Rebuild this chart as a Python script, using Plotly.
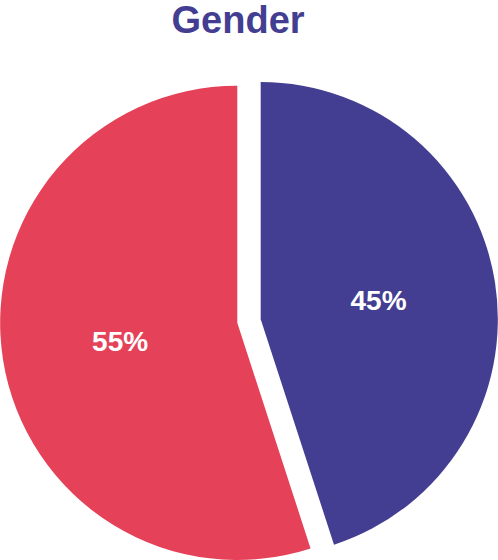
import plotly.graph_objects as go

labels = ["Male", "Female"]
values = [45, 55]
colors = ["#433E91", "#E5425A"]
title_text = "Gender"

fig = go.Figure(go.Pie(
    labels=labels,
    values=values,
    marker=dict(colors=colors, line=dict(width=0)),
    sort=False,
    direction="clockwise",
    rotation=0,
    pull=[0.05, 0.05],
    textinfo="percent",
    texttemplate="%{percent:.0%}",
    textposition="inside",
    insidetextorientation="horizontal",
    textfont=dict(family="Liberation Sans, Arial, sans-serif", size=28, color="white", weight="bold"),
    hole=0,
    showlegend=False,
))

H = 570
fig.update_layout(
    width=498,
    height=H,
    margin=dict(l=0, r=0, t=72, b=0),
    paper_bgcolor="white",
    title=dict(
        text="<b>" + title_text + "</b>",
        x=0.478, xanchor="center",
        y=1 - 20 / H, yanchor="middle",
        font=dict(family="Liberation Sans, Arial, sans-serif", size=38, color="#433E91"),
    ),
)

fig.write_html(
    "out.html",
    config={"displayModeBar": False},
    post_script="document.body.style.margin='0';document.body.style.overflow='hidden';",
)
